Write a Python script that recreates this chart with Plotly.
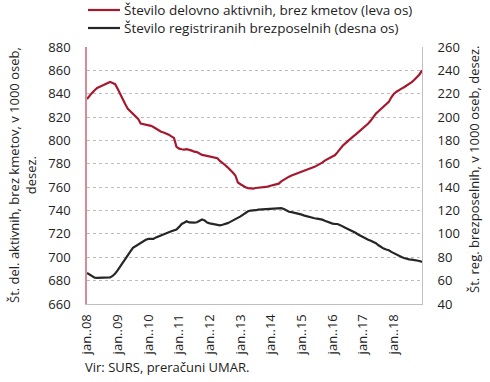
import pandas as pd
import plotly.graph_objects as go

months = [d.strftime("%Y-%m-%d") for d in pd.date_range("2008-01-01", "2018-12-01", freq="MS")]

tick_vals = [f"{y}-01-01" for y in range(2008, 2019)]
tick_text = ["jan..08", "jan..09", "jan..10", "jan..11", "jan..12", "jan..13",
             "jan..14", "jan..15", "jan..16", "jan..17", "jan..18"]

name_active = "Število delovno aktivnih, brez kmetov (leva os)"
name_unemp = "Število registriranih brezposelnih (desna os)"

active = [
    835.5, 838.5, 840.7, 843.0, 845.0, 846.0, 847.0, 848.0, 849.5, 850.0, 849.2, 848.2,
    844.0, 839.0, 835.0, 831.0, 827.0, 825.0, 823.0, 821.0, 818.5, 814.5, 814.0, 813.7,
    813.2, 812.5, 811.5, 810.2, 808.5, 807.5, 806.8, 806.0, 805.0, 803.5, 802.2, 794.5,
    793.0, 792.5, 792.2, 792.6, 792.2, 791.3, 790.4, 790.0, 788.8, 787.6, 787.2, 786.6,
    786.2, 785.7, 785.3, 784.8, 782.5, 781.0, 779.0, 777.0, 775.0, 772.5, 770.0, 764.0,
    762.5, 761.0, 760.0, 759.2, 758.7, 758.8, 759.3, 759.5, 759.6, 759.6, 760.2, 760.8,
    761.3, 761.8, 762.3, 763.0, 765.0, 766.5, 767.8, 769.0, 770.0, 770.9, 771.8, 772.6,
    773.4, 774.2, 775.0, 775.8, 776.6, 777.4, 778.4, 779.5, 781.0, 782.8, 784.0, 785.0,
    785.8, 787.5, 790.0, 793.0, 795.5, 797.5, 799.6, 801.5, 803.3, 805.0, 807.0, 809.0,
    810.5, 812.2, 814.5, 817.0, 820.0, 823.0, 825.0, 827.0, 829.0, 830.5, 833.0, 837.0,
    840.0, 841.7, 843.2, 844.4, 845.6, 847.0, 848.3, 850.0, 852.0, 854.5, 856.5, 860.0,
]

unemployed = [
    66.6, 65.0, 63.5, 62.5, 62.3, 62.3, 62.3, 62.3, 62.4, 62.8, 64.0, 66.0,
    69.0, 72.5, 75.5, 79.0, 82.0, 85.0, 88.0, 89.5, 90.8, 92.0, 93.5, 95.0,
    95.7, 95.6, 95.7, 97.0, 98.0, 99.0, 100.0, 100.5, 101.5, 102.3, 103.0, 103.8,
    106.0, 108.5, 109.5, 110.8, 109.8, 109.5, 109.6, 110.0, 111.3, 112.3, 111.5, 109.7,
    109.0, 108.7, 108.3, 107.6, 107.4, 107.8, 108.3, 109.2, 110.3, 111.3, 112.3, 113.5,
    115.0, 116.5, 118.0, 119.4, 120.0, 120.0, 120.3, 120.8, 121.0, 120.7, 121.0, 121.2,
    121.2, 121.5, 121.8, 122.3, 122.1, 121.4, 120.3, 119.0, 118.6, 118.2, 117.6, 117.2,
    116.5, 115.6, 115.0, 114.4, 113.8, 113.4, 113.1, 112.8, 112.2, 111.3, 110.3, 109.2,
    108.8, 108.6, 108.5, 107.5, 106.0, 105.2, 104.2, 103.2, 102.2, 101.0, 99.5, 98.3,
    97.0, 96.0, 95.0, 94.2, 93.2, 92.0, 90.3, 88.5, 87.4, 86.6, 86.0, 84.6,
    83.3, 82.0, 81.0, 80.2, 79.4, 78.7, 78.2, 78.0, 77.8, 77.4, 76.8, 76.0,
]

left_title = "Št. del. aktivnih, brez kmetov, v 1000 oseb,<br>desez."
right_title = "Št. reg. brezposelnih, v 1000 oseb, desez."
source = "Vir: SURS, preračuni UMAR."

FONT = "Open Sans"
TXT = "#222222"
RED = "#A5192E"
BLACK = "#262626"
W, H = 490, 382
L, R, T, B = 87, 68, 47, 78
PW, PH = W - L - R, H - T - B


def px(x):
    return (x - L) / PW


def py(y):
    return (H - B - y) / PH


fig = go.Figure()
fig.add_trace(go.Scatter(x=months, y=active, name=name_active, mode="lines",
                         line=dict(color=RED, width=2.2), yaxis="y"))
fig.add_trace(go.Scatter(x=months, y=unemployed, name=name_unemp, mode="lines",
                         line=dict(color=BLACK, width=2.2), yaxis="y2"))

legend_items = [(name_active, RED, 10), (name_unemp, BLACK, 28)]
shapes = []
annotations = []
for name, color, yc in legend_items:
    shapes.append(dict(type="line", xref="paper", yref="paper", x0=px(88), x1=px(120),
                       y0=py(yc), y1=py(yc), line=dict(color=color, width=2.2)))
    annotations.append(dict(text=name, xref="paper", yref="paper", x=px(122), y=py(yc),
                            xanchor="left", yanchor="middle", showarrow=False,
                            font=dict(size=13.5, family=FONT, color=TXT)))

annotations += [
    dict(text=left_title, xref="paper", yref="paper", x=px(22), y=py(175),
         xanchor="center", yanchor="middle", textangle=-90, showarrow=False,
         font=dict(size=13, family=FONT, color=TXT)),
    dict(text=right_title, xref="paper", yref="paper", x=px(474), y=py(170),
         xanchor="center", yanchor="middle", textangle=-90, showarrow=False,
         font=dict(size=13, family=FONT, color=TXT)),
    dict(text=source, xref="paper", yref="paper", x=px(83), y=py(367),
         xanchor="left", yanchor="middle", showarrow=False,
         font=dict(size=13, family=FONT, color=TXT)),
]

fig.update_layout(
    width=W, height=H,
    margin=dict(l=L, r=R, t=T, b=B, autoexpand=False),
    paper_bgcolor="white", plot_bgcolor="white",
    font=dict(family=FONT, size=13, color=TXT),
    showlegend=False,
    xaxis=dict(range=[months[0], months[-1]], tickvals=tick_vals, ticktext=tick_text,
               tickangle=-90, showgrid=False, showline=True, linecolor="#BFBFBF",
               linewidth=1, ticks="", zeroline=False, ticklabelstandoff=4),
    yaxis=dict(range=[660, 880], dtick=20, tick0=660, showgrid=True,
               gridcolor="#BDBDBD", griddash="dot", gridwidth=1,
               showline=True, linecolor="#D98A95", linewidth=1.5,
               ticks="", zeroline=False, ticklabelstandoff=12),
    yaxis2=dict(range=[40, 260], dtick=20, tick0=40, overlaying="y", side="right",
                showgrid=False, showline=True, linecolor="#BFBFBF", linewidth=1,
                ticks="", zeroline=False, ticklabelstandoff=12),
    shapes=shapes,
    annotations=annotations,
)

fig.write_html("out.html", config={"displayModeBar": False},
               post_script="document.body.style.margin='0';document.body.style.overflow='hidden';")
